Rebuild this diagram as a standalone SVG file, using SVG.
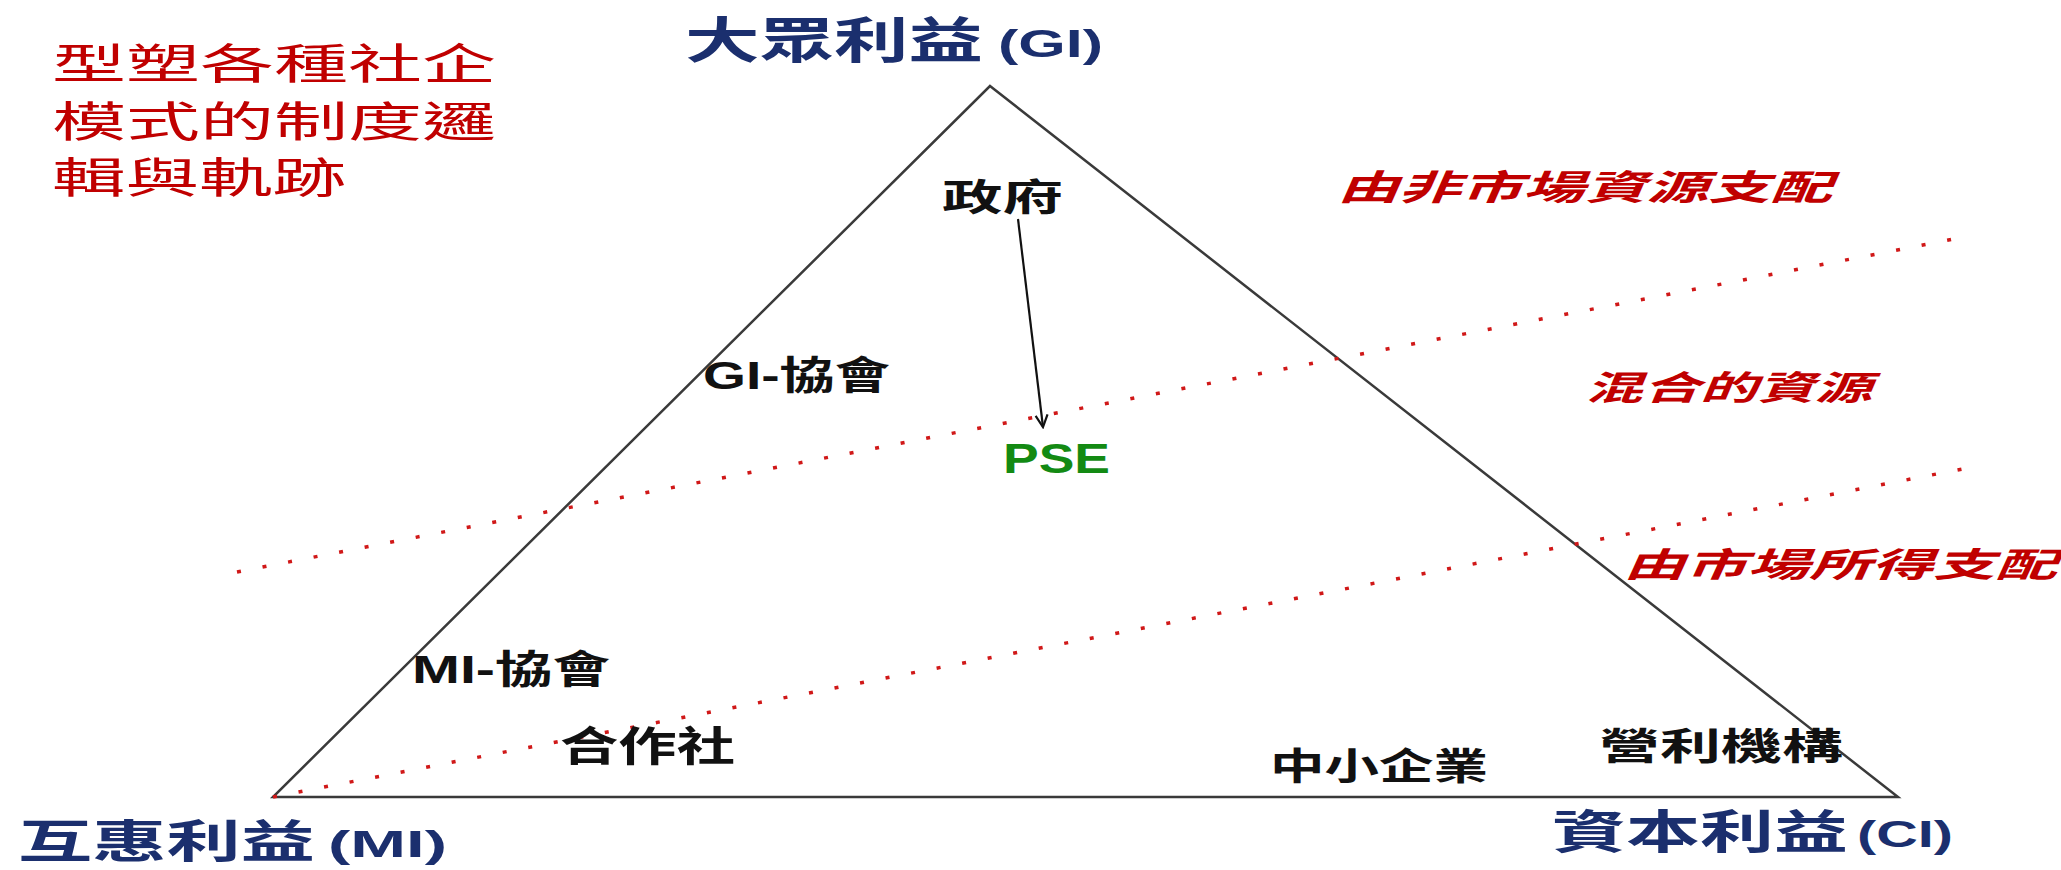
<svg xmlns="http://www.w3.org/2000/svg" width="2061" height="870" viewBox="0 0 2061 870">
<defs>
<style>
.cjk{font-family:"Noto Sans CJK TC","Noto Sans CJK SC",sans-serif;}
.mix{font-family:"Liberation Sans","Noto Sans CJK TC",sans-serif;font-weight:bold;}
.navy{fill:#1b2f6e;font-weight:bold;}
.lat{font-family:"Liberation Sans",Arial,sans-serif;font-weight:bold;}
.red{fill:#c00000;}
.redi{fill:#c00000;font-weight:bold;font-style:italic;}
.blk{fill:#111;font-weight:bold;}
.dots{stroke:#d01818;stroke-width:3.5;stroke-dasharray:4 22;fill:none;}
.tri{stroke:#3a3a3a;stroke-width:2.5;fill:none;stroke-linejoin:miter;}
</style>
<marker id="arr" viewBox="0 0 16 16" refX="14" refY="8" markerWidth="16" markerHeight="16" markerUnits="userSpaceOnUse" orient="auto">
<path d="M2,2 L14,8 L2,14" fill="none" stroke="#111" stroke-width="2.2"/>
</marker>
</defs>
<rect width="2061" height="870" fill="#fff"/>
<g id="frame">
<path class="tri" d="M990,86 L1898,797 L273,797 Z"/>
<line class="dots" x1="237" y1="572" x2="1954" y2="239"/>
<line class="dots" x1="273" y1="797" x2="1983" y2="465"/>
</g>
<g id="connectors">
<line x1="1018" y1="219" x2="1043" y2="427" stroke="#111" stroke-width="2.2" marker-end="url(#arr)"/>
</g>
<g id="title-note">
<text class="cjk red" font-size="42" x="52" y="79" textLength="444" lengthAdjust="spacingAndGlyphs">型塑各種社企</text>
<text class="cjk red" font-size="42" x="52" y="137" textLength="444" lengthAdjust="spacingAndGlyphs">模式的制度邏</text>
<text class="cjk red" font-size="42" x="52" y="193" textLength="294" lengthAdjust="spacingAndGlyphs">輯與軌跡</text>
</g>
<g id="node-gi">
<text class="cjk navy" font-size="49" x="685" y="58" textLength="298" lengthAdjust="spacingAndGlyphs">大眾利益</text>
<text class="lat navy" font-size="38" x="998" y="57" textLength="105" lengthAdjust="spacingAndGlyphs">(GI)</text>
</g>
<g id="node-mi">
<text class="cjk navy" font-size="45" x="18" y="858" textLength="297" lengthAdjust="spacingAndGlyphs">互惠利益</text>
<text class="lat navy" font-size="37" x="328" y="857" textLength="119" lengthAdjust="spacingAndGlyphs">(MI)</text>
</g>
<g id="node-ci">
<text class="cjk navy" font-size="46" x="1552" y="848" textLength="296" lengthAdjust="spacingAndGlyphs">資本利益</text>
<text class="lat navy" font-size="37" x="1857" y="847" textLength="96" lengthAdjust="spacingAndGlyphs">(CI)</text>
</g>
<g id="node-gov">
<text class="cjk blk" font-size="37" x="942" y="211" textLength="121" lengthAdjust="spacingAndGlyphs">政府</text>
</g>
<g id="node-pse">
<text class="lat" font-size="42" x="1003" y="473" textLength="107" lengthAdjust="spacingAndGlyphs" fill="#138a13">PSE</text>
</g>
<g id="node-gi-assoc">
<text class="mix" font-size="39" x="703" y="389" textLength="187" lengthAdjust="spacingAndGlyphs" fill="#111">GI-協會</text>
</g>
<g id="node-mi-assoc">
<text class="mix" font-size="39" x="412" y="683" textLength="198" lengthAdjust="spacingAndGlyphs" fill="#111">MI-協會</text>
</g>
<g id="node-coop">
<text class="cjk blk" font-size="41" x="560" y="761" textLength="175" lengthAdjust="spacingAndGlyphs">合作社</text>
</g>
<g id="node-sme">
<text class="cjk blk" font-size="37" x="1270" y="780" textLength="218" lengthAdjust="spacingAndGlyphs">中小企業</text>
</g>
<g id="node-profit">
<text class="cjk blk" font-size="37" x="1599" y="760" textLength="244" lengthAdjust="spacingAndGlyphs">營利機構</text>
</g>
<g id="zone-labels">
<text class="cjk redi" font-size="35" x="1337" y="200" textLength="495" lengthAdjust="spacingAndGlyphs">由非市場資源支配</text>
<text class="cjk redi" font-size="34" x="1585" y="400" textLength="287" lengthAdjust="spacingAndGlyphs">混合的資源</text>
<text class="cjk redi" font-size="34" x="1623" y="577" textLength="434" lengthAdjust="spacingAndGlyphs">由市場所得支配</text>
</g>
</svg>
